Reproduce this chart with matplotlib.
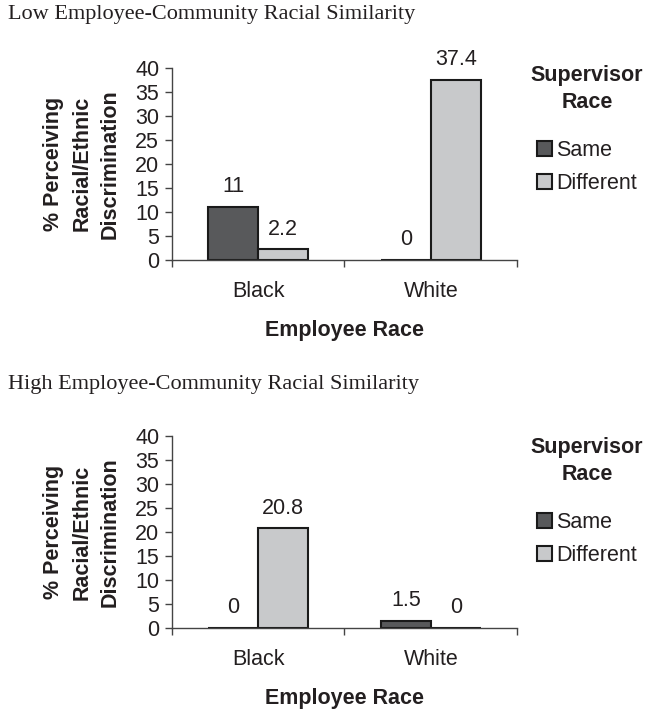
import numpy as np
import matplotlib.pyplot as plt

# data
employee_race = ['Black', 'White']
series_names = ['Same', 'Different']
low_same = [11, 0]
low_diff = [2.2, 37.4]
high_same = [0, 1.5]
high_diff = [20.8, 0]
yticks = [0, 5, 10, 15, 20, 25, 30, 35, 40]

same_color = '#58595b'
diff_color = '#c8c9cb'
ink = '#231f20'

plt.rcParams['font.family'] = ['Liberation Sans', 'DejaVu Sans']

W, H = 658, 713
fig = plt.figure(figsize=(W / 100, H / 100), dpi=100)

FS = 15.5


def fmt(v):
    return f'{v:g}'


def draw_panel(ax, same, diff):
    x = np.arange(len(employee_race))
    w = 0.29
    b1 = ax.bar(x - w / 2, same, w, color=same_color, edgecolor='#1a1a1a',
                linewidth=1.5, label=series_names[0])
    b2 = ax.bar(x + w / 2, diff, w, color=diff_color, edgecolor='#1a1a1a',
                linewidth=1.5, label=series_names[1])
    for bars, vals in ((b1, same), (b2, diff)):
        for rect, v in zip(bars, vals):
            ax.annotate(fmt(v), (rect.get_x() + rect.get_width() / 2, v),
                        xytext=(0, 14.5), textcoords='offset points',
                        ha='center', va='center', fontsize=FS, color=ink)
    ax.set_xlim(-0.5, 1.5)
    ax.set_ylim(0, 40)
    ax.set_yticks(yticks)
    ax.set_xticks([-0.5, 0.5, 1.5])
    ax.set_xticklabels([])
    ax.tick_params(axis='y', labelsize=FS, length=5, width=1, color='#444444',
                   labelcolor=ink, pad=4)
    ax.tick_params(axis='x', length=5, width=1, color='#444444')
    for i, name in enumerate(employee_race):
        ax.text(i, -0.165, name, transform=ax.get_xaxis_transform(),
                ha='center', va='center', fontsize=FS, color=ink)
    ax.text(0.5, -0.365, 'Employee Race', transform=ax.transAxes,
            ha='center', va='center', fontsize=FS, fontweight='bold',
            color=ink)
    for s in ('top', 'right'):
        ax.spines[s].set_visible(False)
    for s in ('left', 'bottom'):
        ax.spines[s].set_color('#444444')
        ax.spines[s].set_linewidth(1)
    return b1, b2


ax1 = fig.add_axes([0.261, 0.6353, 0.525, 0.270])
ax2 = fig.add_axes([0.261, 0.1192, 0.525, 0.2693])

h1 = draw_panel(ax1, low_same, low_diff)
h2 = draw_panel(ax2, high_same, high_diff)

ylab = '% Perceiving\nRacial/Ethnic\nDiscrimination'
for ax in (ax1, ax2):
    pos = ax.get_position()
    fig.text(82 / W, pos.y0 + pos.height / 2, ylab, rotation=90,
             ha='center', va='center', fontsize=FS, fontweight='bold',
             color=ink, linespacing=1.45, multialignment='center')

fig.text(8 / W, 1 - 15 / H, 'Low Employee-Community Racial Similarity',
         family='Liberation Serif', fontsize=16, va='center', ha='left',
         color=ink)
fig.text(8 / W, 1 - 385 / H, 'High Employee-Community Racial Similarity',
         family='Liberation Serif', fontsize=16, va='center', ha='left',
         color=ink)

for ytop, handles in ((76, h1), (448, h2)):
    fig.text(587 / W, 1 - ytop / H, 'Supervisor', ha='center', va='center',
             fontsize=FS, fontweight='bold', color=ink)
    fig.text(587 / W, 1 - (ytop + 26) / H, 'Race', ha='center', va='center',
             fontsize=FS, fontweight='bold', color=ink)
    fig.legend(handles, series_names, loc='upper left',
               bbox_to_anchor=(537 / W, 1 - (ytop + 64) / H),
               frameon=False, fontsize=FS, handlelength=0.7, handleheight=0.7,
               handletextpad=0.2, labelspacing=0.55, borderpad=0,
               borderaxespad=0, labelcolor=ink)

fig.savefig('out.png', dpi=100)
